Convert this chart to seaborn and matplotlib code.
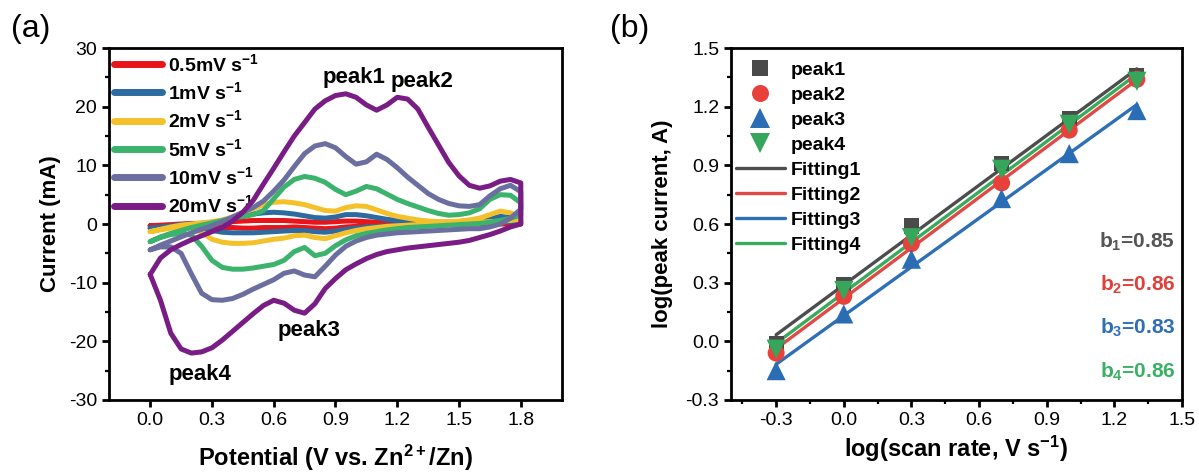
import numpy as np
import pandas as pd
import matplotlib
matplotlib.use("Agg")
import matplotlib.pyplot as plt
from matplotlib.lines import Line2D
from matplotlib.ticker import MultipleLocator, FormatStrFormatter
import seaborn as sns

# ---------------- (a) cyclic voltammograms ----------------
potential = [0.00, 0.05, 0.10, 0.15, 0.20, 0.25, 0.30, 0.35, 0.40, 0.45,
             0.50, 0.55, 0.60, 0.65, 0.70, 0.75, 0.80, 0.85, 0.90, 0.95,
             1.00, 1.05, 1.10, 1.15, 1.20, 1.25, 1.30, 1.35, 1.40, 1.45,
             1.50, 1.55, 1.60, 1.65, 1.70, 1.75, 1.80]

# anodic (forward) and cathodic (reverse) branches, current in mA
ox_05 = [-0.3, -0.2, -0.1, 0.0, 0.1, 0.1, 0.2, 0.3, 0.4, 0.5, 0.6, 0.6, 0.6, 0.6, 0.5, 0.4, 0.3, 0.3, 0.4,
         0.5, 0.5, 0.4, 0.3, 0.2, 0.2, 0.1, 0.1, 0.1, 0.1, 0.1, 0.1, 0.2, 0.2, 0.3, 0.5, 0.4, 0.2]
red_05 = [-0.3, -0.3, -0.3, -0.3, -0.3, -0.4, -0.5, -0.6, -0.6, -0.7, -0.7, -0.6, -0.6, -0.6, -0.5, -0.6, -0.7,
          -0.8, -0.7, -0.5, -0.4, -0.3, -0.2, -0.2, -0.1, -0.1, -0.1, 0.0, 0.0, 0.0, 0.0, 0.0, 0.0, 0.0, 0.0, 0.0, 0.0]

ox_1 = [-0.7, -0.5, -0.3, -0.1, 0.0, 0.1, 0.3, 0.5, 0.9, 1.3, 1.7, 1.9, 2.0, 1.9, 1.7, 1.4, 1.1, 1.0, 1.2,
        1.6, 1.6, 1.4, 1.1, 0.8, 0.6, 0.5, 0.4, 0.3, 0.3, 0.3, 0.3, 0.4, 0.6, 0.9, 1.3, 1.1, 0.6]
red_1 = [-0.7, -0.6, -0.5, -0.4, -0.4, -0.7, -1.1, -1.4, -1.5, -1.5, -1.5, -1.4, -1.3, -1.2, -1.1, -1.1, -1.3,
         -1.4, -1.2, -0.9, -0.7, -0.5, -0.4, -0.3, -0.2, -0.1, -0.1, 0.0, 0.0, 0.0, 0.0, 0.1, 0.1, 0.2, 0.3, 0.4, 0.5]

ox_2 = [-1.3, -0.9, -0.5, -0.2, 0.0, 0.2, 0.4, 0.7, 1.2, 1.9, 2.6, 3.3, 3.7, 3.8, 3.6, 3.3, 2.8, 2.3, 2.2,
        2.8, 3.1, 3.0, 2.4, 1.8, 1.3, 1.0, 0.7, 0.5, 0.4, 0.4, 0.5, 0.7, 1.0, 1.6, 2.2, 1.9, 1.2]
red_2 = [-1.3, -1.0, -0.7, -0.5, -0.6, -1.4, -2.6, -3.1, -3.3, -3.3, -3.2, -2.9, -2.6, -2.4, -2.0, -1.9, -2.3,
         -2.5, -2.0, -1.5, -1.1, -0.8, -0.6, -0.4, -0.3, -0.2, -0.1, 0.0, 0.0, 0.1, 0.1, 0.2, 0.3, 0.4, 0.5, 0.6, 0.8]

ox_5 = [-3.0, -2.2, -1.6, -1.1, -0.6, -0.2, 0.2, 0.6, 1.0, 1.3, 1.6, 2.3, 4.3, 6.3, 7.6, 8.1, 7.8, 7.1, 5.9,
        5.0, 5.6, 6.4, 6.0, 5.1, 4.2, 3.5, 2.9, 2.3, 1.8, 1.5, 1.6, 1.9, 2.6, 4.2, 5.0, 4.9, 3.6]
red_5 = [-3.0, -2.3, -1.8, -1.6, -1.9, -3.8, -6.2, -7.4, -7.7, -7.7, -7.5, -7.2, -6.9, -6.2, -4.7, -4.0, -5.4,
         -5.0, -3.7, -2.7, -2.0, -1.6, -1.3, -1.0, -0.8, -0.6, -0.5, -0.4, -0.3, -0.2, -0.1, 0.0, 0.1, 0.3, 0.6, 1.0, 1.5]

ox_10 = [-4.4, -3.6, -2.9, -2.2, -1.5, -0.9, -0.3, 0.4, 1.2, 2.0, 2.8, 3.9, 5.6, 7.5, 9.8, 12.0, 13.3, 13.7,
         13.0, 11.5, 10.2, 10.6, 11.9, 11.0, 9.6, 8.0, 6.6, 5.2, 4.2, 3.5, 3.1, 3.0, 3.3, 4.8, 6.0, 6.6, 5.5]
red_10 = [-4.4, -3.9, -3.9, -5.0, -8.5, -11.8, -12.9, -13.0, -12.7, -12.0, -11.1, -10.3, -9.5, -8.4, -8.0,
          -8.7, -9.0, -7.2, -5.3, -3.8, -2.9, -2.3, -1.9, -1.7, -1.5, -1.4, -1.3, -1.2, -1.1, -1.0, -0.9, -0.8,
          -0.8, -0.5, 0.0, 1.0, 2.5]

ox_20 = [-8.6, -5.8, -4.4, -3.5, -2.7, -2.0, -1.3, -0.6, 0.5, 2.0, 4.0, 6.8, 9.5, 12.3, 15.0, 17.3, 19.6,
         21.0, 21.9, 22.2, 21.6, 20.3, 19.4, 20.3, 21.6, 21.3, 19.6, 16.5, 13.5, 10.5, 8.2, 6.6, 6.1, 6.5,
         7.3, 7.6, 7.0]
red_20 = [-8.6, -13.0, -18.6, -21.3, -22.0, -21.8, -21.1, -19.8, -18.3, -16.8, -15.3, -13.9, -13.0, -13.5,
          -14.7, -15.2, -13.6, -11.0, -9.3, -7.8, -6.8, -5.9, -5.2, -4.7, -4.4, -4.1, -3.9, -3.7, -3.5, -3.3,
          -3.1, -2.8, -2.3, -1.8, -1.2, -0.5, 0.0]

scan_labels = ["0.5mV s$^{-1}$", "1mV s$^{-1}$", "2mV s$^{-1}$",
               "5mV s$^{-1}$", "10mV s$^{-1}$", "20mV s$^{-1}$"]
cv_colors = ["#e8141a", "#2c6aa0", "#f4c12b", "#3bb36d", "#6b6f9f", "#7a1c85"]
cv_branches = [(ox_05, red_05), (ox_1, red_1), (ox_2, red_2),
               (ox_5, red_5), (ox_10, red_10), (ox_20, red_20)]

# ---------------- (b) b-value analysis ----------------
log_scan_rate = [-0.3, 0.0, 0.3, 0.7, 1.0, 1.3]
log_peak1 = [-0.01, 0.29, 0.59, 0.91, 1.14, 1.36]
log_peak2 = [-0.06, 0.23, 0.50, 0.81, 1.08, 1.34]
log_peak3 = [-0.15, 0.14, 0.42, 0.73, 0.96, 1.18]
log_peak4 = [-0.04, 0.26, 0.53, 0.88, 1.11, 1.33]
b_values = [0.85, 0.86, 0.83, 0.86]
peak_names = ["peak1", "peak2", "peak3", "peak4"]
fit_names = ["Fitting1", "Fitting2", "Fitting3", "Fitting4"]

marker_colors = ["#4a4a4a", "#e8413c", "#2a6db5", "#36a65a"]
fit_colors = ["#4d4d4d", "#e04a46", "#2e6fb8", "#39ab5c"]
text_colors = ["#555555", "#e0403a", "#2e6fb8", "#3bb163"]
markers = ["s", "o", "^", "v"]
marker_sizes = [120, 150, 190, 190]

# ---------------- style ----------------
sns.set_style("ticks")
plt.rcParams["font.family"] = ["Liberation Sans", "DejaVu Sans"]
plt.rcParams["mathtext.fontset"] = "custom"
plt.rcParams["mathtext.default"] = "regular"
plt.rcParams["axes.unicode_minus"] = False
plt.rcParams["axes.linewidth"] = 2.0
plt.rcParams["text.color"] = "black"
plt.rcParams["axes.labelcolor"] = "black"
plt.rcParams["axes.edgecolor"] = "black"
for ax_name in ("xtick", "ytick"):
    plt.rcParams[f"{ax_name}.major.width"] = 2.0
    plt.rcParams[f"{ax_name}.major.size"] = 5
    plt.rcParams[f"{ax_name}.minor.width"] = 1.6
    plt.rcParams[f"{ax_name}.minor.size"] = 3
    plt.rcParams[f"{ax_name}.direction"] = "out"
    plt.rcParams[f"{ax_name}.color"] = "black"
    plt.rcParams[f"{ax_name}.labelcolor"] = "black"
    plt.rcParams[f"{ax_name}.labelsize"] = 14

fig = plt.figure(figsize=(11.99, 4.75), dpi=100)
ax_a = fig.add_axes([0.0909, 0.1579, 0.3778, 0.7410])
ax_b = fig.add_axes([0.6097, 0.1579, 0.3761, 0.7410])

# ---- panel (a)
draw_order = [1, 2, 3, 4, 0, 5]
for k in draw_order:
    ox, red = cv_branches[k]
    loop = pd.DataFrame({
        "E": potential + potential[::-1],
        "I": ox + red[::-1],
    })
    sns.lineplot(data=loop, x="E", y="I", sort=False, estimator=None,
                 color=cv_colors[k], linewidth=3.6, ax=ax_a, legend=False,
                 zorder=3 + k)

ax_a.set_xlim(-0.2, 2.0)
ax_a.set_ylim(-30, 30)
ax_a.xaxis.set_major_locator(MultipleLocator(0.3))
ax_a.xaxis.set_major_formatter(FormatStrFormatter("%.1f"))
ax_a.yaxis.set_major_locator(MultipleLocator(10))
ax_a.yaxis.set_minor_locator(MultipleLocator(5))
ax_a.set_xlabel("Potential (V vs. Zn$^{2+}$/Zn)", fontsize=17, fontweight="bold")
ax_a.set_ylabel("Current (mA)", fontsize=16, fontweight="bold")
ax_a.xaxis.set_label_coords(0.5, -0.122)
ax_a.yaxis.set_label_coords(-0.105, 0.5)

cv_handles = [Line2D([], [], color=c, linewidth=5) for c in cv_colors]
ax_a.legend(cv_handles, scan_labels, loc="upper left", bbox_to_anchor=(0.0, 1.0),
            frameon=False, handlelength=2.5, handletextpad=0.3, labelspacing=0.33,
            borderpad=0.25, borderaxespad=0.0,
            prop={"size": 14, "weight": "bold"})

ax_a.text(0.99, 25.0, "peak1", fontsize=16, fontweight="bold", ha="center", va="center")
ax_a.text(1.32, 24.3, "peak2", fontsize=16, fontweight="bold", ha="center", va="center")
ax_a.text(0.77, -18.1, "peak3", fontsize=16, fontweight="bold", ha="center", va="center")
ax_a.text(0.24, -25.7, "peak4", fontsize=16, fontweight="bold", ha="center", va="center")

# ---- panel (b)
peak_series = [log_peak1, log_peak2, log_peak3, log_peak4]
x_arr = np.array(log_scan_rate)
for k, ys in enumerate(peak_series):
    y_arr = np.array(ys)
    fit = pd.DataFrame({
        "x": x_arr,
        "y": y_arr.mean() + b_values[k] * (x_arr - x_arr.mean()),
    })
    sns.lineplot(data=fit, x="x", y="y", color=fit_colors[k], linewidth=2.4,
                 ax=ax_b, legend=False, zorder=2)
for k, ys in enumerate(peak_series):
    pts = pd.DataFrame({"x": log_scan_rate, "y": ys})
    sns.scatterplot(data=pts, x="x", y="y", marker=markers[k], color=marker_colors[k],
                    s=marker_sizes[k], edgecolor="none", ax=ax_b, legend=False, zorder=4)

ax_b.set_xlim(-0.5, 1.5)
ax_b.set_ylim(-0.3, 1.5)
ax_b.xaxis.set_major_locator(MultipleLocator(0.3))
ax_b.xaxis.set_minor_locator(MultipleLocator(0.15))
ax_b.yaxis.set_major_locator(MultipleLocator(0.3))
ax_b.yaxis.set_minor_locator(MultipleLocator(0.15))
ax_b.xaxis.set_major_formatter(FormatStrFormatter("%.1f"))
ax_b.yaxis.set_major_formatter(FormatStrFormatter("%.1f"))
ax_b.set_xticks([-0.3, 0.0, 0.3, 0.6, 0.9, 1.2, 1.5])
ax_b.set_xlabel("log(scan rate, V s$^{-1}$)", fontsize=17, fontweight="bold")
ax_b.set_ylabel("log(peak current, A)", fontsize=16, fontweight="bold")
ax_b.xaxis.set_label_coords(0.5, -0.095)
ax_b.yaxis.set_label_coords(-0.128, 0.5)

b_handles = [Line2D([], [], marker=m, linestyle="none", color=c, markersize=ms ** 0.5,
                    markeredgewidth=0)
             for m, c, ms in zip(markers, marker_colors, marker_sizes)]
b_handles += [Line2D([], [], color=c, linewidth=2.4) for c in fit_colors]
ax_b.legend(b_handles, peak_names + fit_names, loc="upper left", bbox_to_anchor=(0.0, 0.975),
            frameon=False, handlelength=2.5, handletextpad=0.3, labelspacing=0.38,
            borderpad=0.25, borderaxespad=0.0, prop={"size": 14, "weight": "bold"})

b_ys = [0.508, 0.288, 0.068, -0.157]
for k in range(4):
    ax_b.text(1.47, b_ys[k], f"b$_{k + 1}$={b_values[k]:.2f}", color=text_colors[k],
              fontsize=15, fontweight="bold", ha="right", va="center")

for ax in (ax_a, ax_b):
    for side in ("top", "right"):
        ax.spines[side].set_visible(True)
    ax.tick_params(top=False, right=False)

fig.text(0.009, 0.922, "(a)", fontsize=23)
fig.text(0.509, 0.922, "(b)", fontsize=23)

fig.savefig("out.png", dpi=100)
